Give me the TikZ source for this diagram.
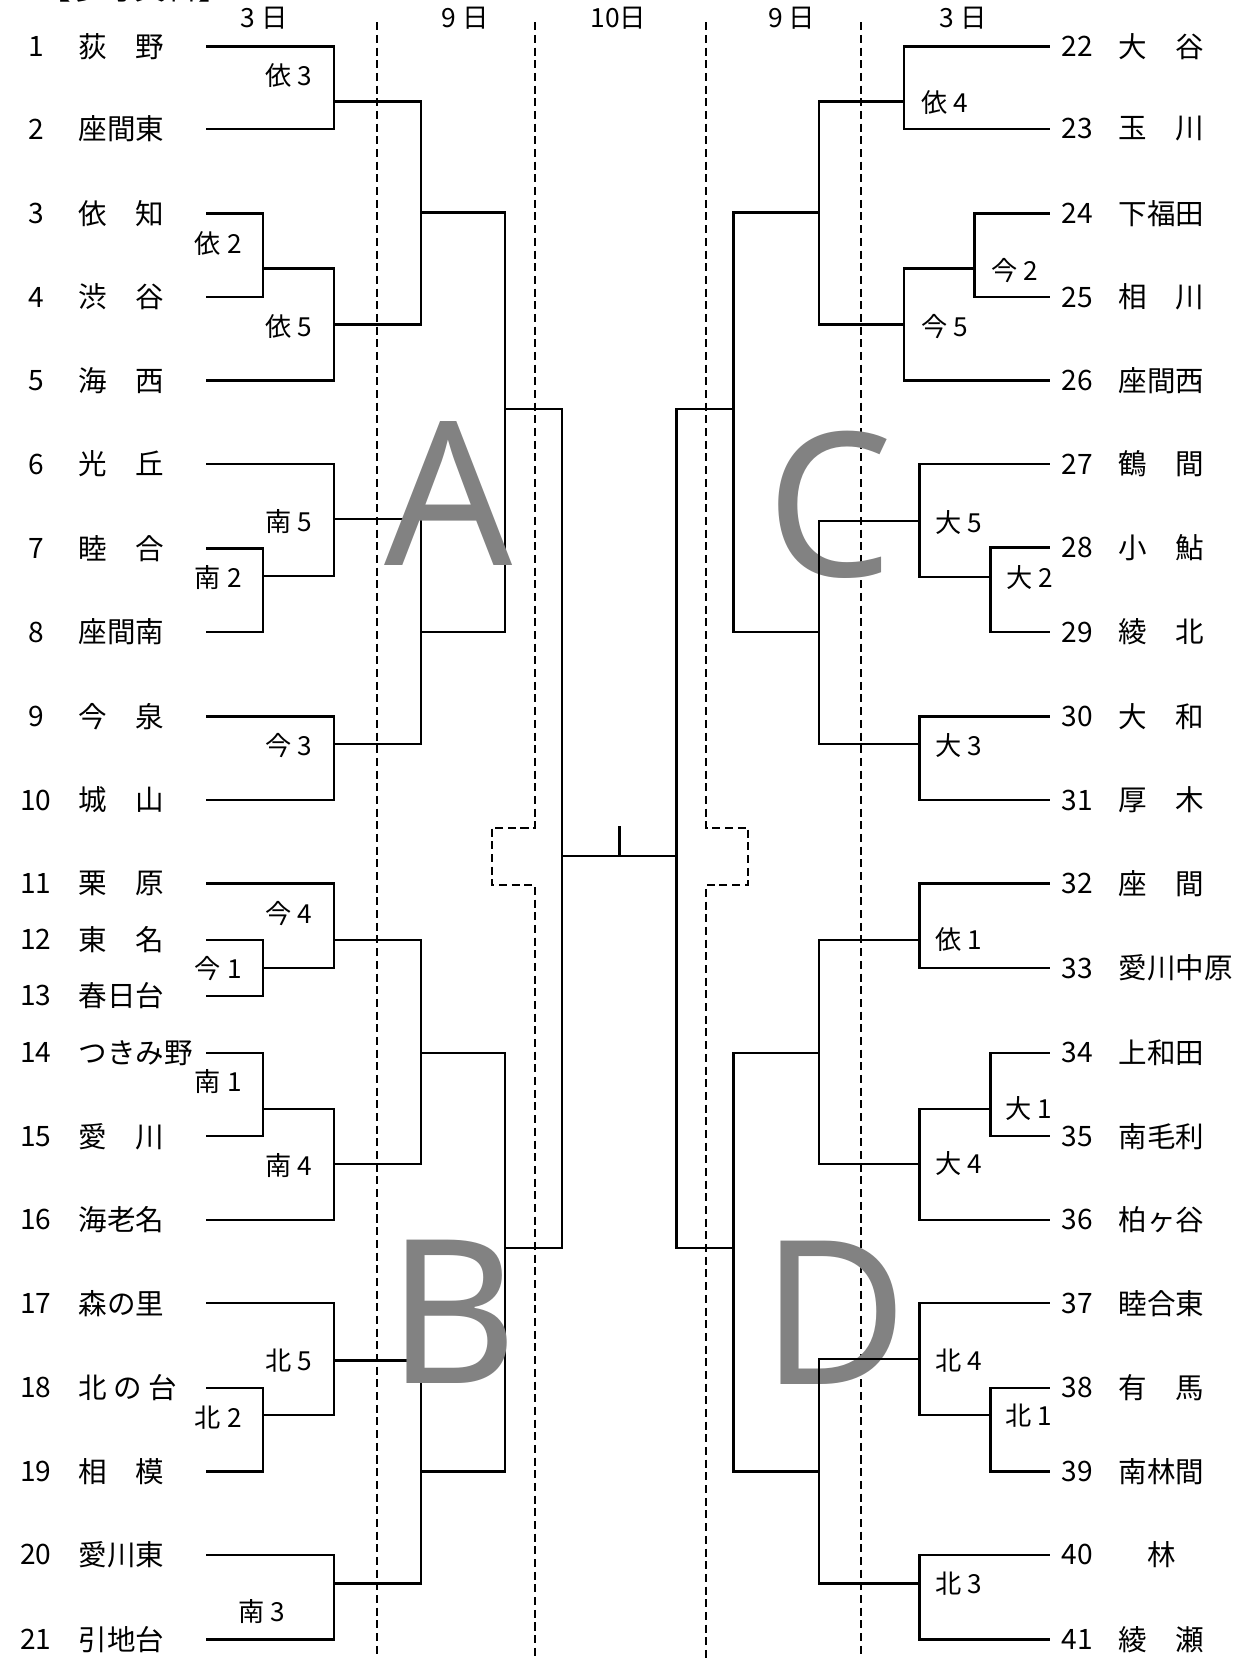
\documentclass[tikz,border=0pt]{standalone}
\usepackage{fontspec}
\setmainfont{Noto Sans CJK JP}
\newfontfamily\bigfont{Noto Sans}
\begin{document}
\begin{tikzpicture}[x=0.5pt,y=-0.5pt,
  ln/.style={line width=1.1pt, line cap=rect},
  dsh/.style={line width=0.95pt, dash pattern=on 3.8pt off 2.2pt},
  num/.style={font=\fontsize{13.3}{13.3}\selectfont, inner sep=0pt, anchor=center},
  numr/.style={font=\fontsize{13.3}{13.3}\selectfont, inner sep=0pt, anchor=west},
  nm/.style={font=\fontsize{13.5}{13.5}\selectfont, inner sep=0pt, anchor=west},
  lab/.style={font=\fontsize{12.4}{12.4}\selectfont, inner sep=0pt},
  hdr/.style={font=\fontsize{12.5}{12.5}\selectfont, inner sep=0pt},
  big/.style={font=\bigfont\fontsize{95}{95}\selectfont, text=gray!98!white, inner sep=0pt, anchor=base}]
\useasboundingbox (0,0) rectangle (1190,1568.6);

% partially visible title (cut off at the top edge, as in the reference)
\node[font=\fontsize{15}{15}\selectfont, inner sep=0pt, anchor=base west] (title) at (37,-0.5) {【参考資料】};

% headers
\node[hdr] (h1) at (250,17) {3 日};
\node[hdr] (h2) at (440,17) {9 日};
\node[hdr] (h3) at (585,17) {10日};
\node[hdr] (h4) at (749,17) {9 日};
\node[hdr] (h5) at (911,17) {3 日};

% dashed day separators
\draw[dsh] (357,21) -- (357,1570);
\draw[dsh] (815,21) -- (815,1570);
\draw[dsh] (506,21) -- (506,783) -- (465,783) -- (465,837) -- (506,837) -- (506,1570);
\draw[dsh] (668,21) -- (668,783) -- (708,783) -- (708,837) -- (668,837) -- (668,1570);

% big letters behind
\node[big] (C) at (785,545) {C};
\node[big] (D) at (790,1310) {D};

% left teams
\foreach \i/\y/\xe/\name in {
 1/44/316/荻　野, 2/122/316/座間東, 3/202/249/依　知, 4/281/249/渋　谷,
 5/360/316/海　西, 6/439/316/光　丘, 7/519/249/睦　合, 8/598/249/座間南,
 9/678/316/今　泉, 10/757/316/城　山, 11/836/316/栗　原, 12/889/249/東　名,
 13/942/249/春日台, 14/996/249/つきみ野, 15/1075/249/愛　川, 16/1154/316/海老名,
 17/1233/316/森の里, 18/1313/249/{北\hspace{0.22em}の\hspace{0.22em}台}, 19/1392/249/相　模,
 20/1471/316/愛川東, 21/1551/316/引地台}{
  \node[num] (n\i) at (34,\y) {\i};
  \node[nm] (t\i) at (74,\y) {\name};
  \coordinate (s\i) at (196,\y);
  \coordinate (e\i) at (\xe,\y);
  \draw[ln] (s\i) -- (e\i);
}

% right teams
\foreach \i/\y/\xe/\name in {
 22/44/855/大　谷, 23/122/855/玉　川, 24/202/922/下福田, 25/281/922/相　川,
 26/360/855/座間西, 27/439/870/鶴　間, 28/518/937/小　鮎, 29/598/937/綾　北,
 30/678/870/大　和, 31/757/870/厚　木, 32/836/870/座　間, 33/916/870/愛川中原,
 34/996/937/上和田, 35/1075/937/南毛利, 36/1154/870/柏ヶ谷, 37/1233/870/睦合東,
 38/1313/937/有　馬, 39/1392/937/南林間, 40/1471/870/　林, 41/1551/870/綾　瀬}{
  \node[numr] (n\i) at (1004,\y) {\i};
  \node[nm] (t\i) at (1058,\y) {\name};
  \coordinate (s\i) at (992,\y);
  \coordinate (e\i) at (\xe,\y);
  \draw[ln] (s\i) -- (e\i);
}

% matches: x / y1 / y2 / yout / xnext
\foreach \x/\ya/\yb/\yo/\xn in {
 316/44/122/96/398, 249/202/281/254/316, 316/254/360/307/398, 398/96/307/201/478,
 249/519/598/545/316, 316/439/545/491/398, 316/678/757/704/398, 398/491/704/598/478,
 478/201/598/387/532,
 249/889/942/916/316, 316/836/916/889/398, 249/996/1075/1049/316, 316/1049/1154/1101/398,
 398/889/1101/996/478, 249/1313/1392/1339/316, 316/1233/1339/1287/398, 316/1471/1551/1498/398,
 398/1287/1498/1392/478, 478/996/1392/1181/532,
 855/44/122/96/775, 922/202/281/254/855, 855/254/360/307/775, 775/96/307/201/694,
 937/518/598/546/870, 870/439/546/493/775, 870/678/757/704/775, 775/493/704/598/694,
 694/201/598/387/640,
 870/836/916/889/775, 937/996/1075/1049/870, 870/1049/1154/1101/775, 775/889/1101/996/694,
 937/1313/1392/1339/870, 870/1233/1339/1286/775, 870/1471/1551/1498/775, 775/1286/1498/1392/694,
 694/996/1392/1181/640}{
  \draw[ln] (\x,\ya) -- (\x,\yb);
  \draw[ln] (\x,\yo) -- (\xn,\yo);
}

% semi-finals and final
\coordinate (fl) at (532,810);
\coordinate (fr) at (640,810);
\coordinate (fc) at (586,810);
\coordinate (ft) at (586,783);
\draw[ln] (532,387) -- (532,1181);
\draw[ln] (640,387) -- (640,1181);
\draw[ln] (fl) -- (fr);
\draw[ln] (fc) -- (ft);

% left round labels
\foreach \n/\x/\y/\t in {l1/296/71/依 3, l2/229/230/依 2, l3/296/309/依 5, l4/296/493/南 5,
 l5/229/546/南 2, l6/296/705/今 3, l7/296/864/今 4, l8/229/916/今 1, l9/229/1023/南 1,
 l10/296/1103/南 4, l11/296/1287/北 5, l12/229/1341/北 2, l13/270/1525/南 3}{
  \node[lab, anchor=east] (\n) at (\x,\y) {\t};
}
% right round labels
\foreach \n/\x/\y/\t in {r1/871/97/依 4, r2/938/256/今 2, r3/871/309/今 5, r4/885/494/大 5,
 r5/952/546/大 2, r6/885/705/大 3, r7/885/889/依 1, r8/951/1049/大 1, r9/885/1101/大 4,
 r10/885/1287/北 4, r11/951/1339/北 1, r12/885/1498/北 3}{
  \node[lab, anchor=west] (\n) at (\x,\y) {\t};
}

% big letters in front
\node[big] (A) at (424,535) {A};
\node[big] (B) at (428,1309) {B};
\end{tikzpicture}
\end{document}
